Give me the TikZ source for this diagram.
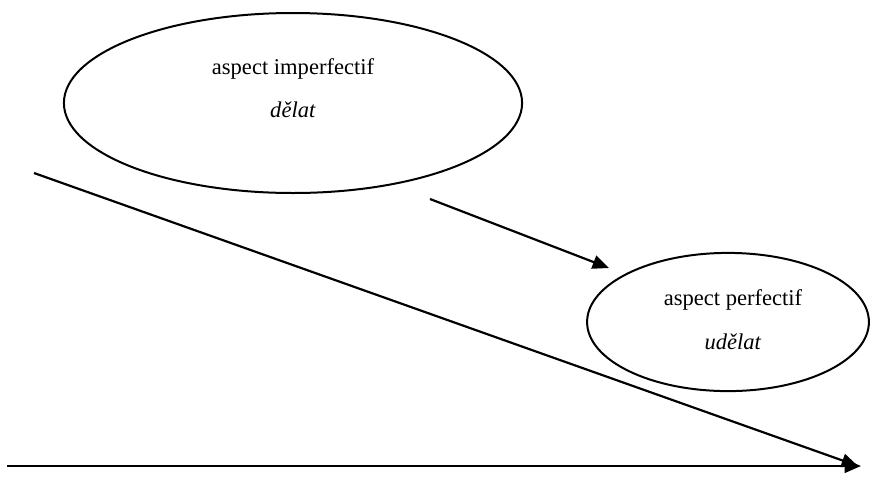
\documentclass[tikz,border=0pt]{standalone}
\usepackage{fontspec}
\setmainfont{Liberation Serif}
\usetikzlibrary{shapes.geometric, arrows.meta}

\begin{document}
\begin{tikzpicture}[x=0.55pt, y=-0.55pt,
  bubble/.style={draw, ellipse, line width=1.1pt, inner sep=0pt},
  pointer/.style={arrows=-{Triangle[length=9pt, width=7.5pt]}, line width=1.2pt},
  word/.style={align=center, font=\fontsize{12.4}{14}\selectfont}]
\useasboundingbox (0,0) rectangle (873,479);
\node  (imp)[bubble, minimum width=252pt, minimum height=99pt] at (293,103) {};
\node  (perf)[bubble, minimum width=155pt, minimum height=76pt] at (728,322) {};
\node  (imptext)[word] at (293,88) {aspect imperfectif\\[10pt]\textit{dělat}};
\node  (perftext)[word] at (733,320) {aspect perfectif\\[10pt]\textit{udělat}};
\coordinate (d0) at (34,173);
\coordinate (d1) at (858,466);
\coordinate (h0) at (7,466);
\coordinate (h1) at (861,466);
\coordinate (a0) at (430,199);
\coordinate (a1) at (609,268);
\draw[pointer] (d0) -- (d1);
\draw[pointer] (h0) -- (h1);
\draw[pointer] (a0) -- (a1);
\end{tikzpicture}
\end{document}
